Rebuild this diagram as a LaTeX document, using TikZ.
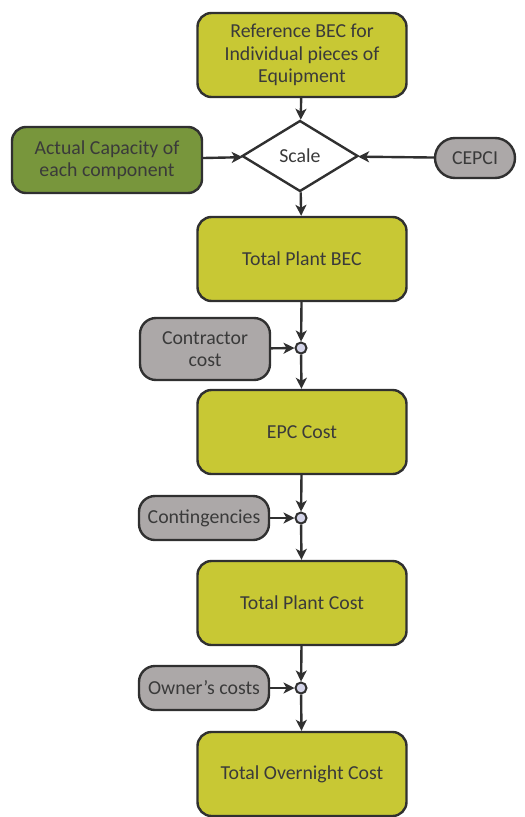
\documentclass[tikz,border=0pt]{standalone}
\usepackage{fontspec}
\setmainfont{Carlito}
\usetikzlibrary{shapes.geometric,arrows.meta}
\definecolor{boxyellow}{RGB}{200,200,52}
\definecolor{boxgreen}{RGB}{120,150,60}
\definecolor{boxgray}{RGB}{172,168,168}
\definecolor{dotfill}{RGB}{212,212,232}
\definecolor{edge}{RGB}{48,48,48}
\definecolor{ink}{RGB}{58,58,58}
\tikzset{
  base/.style={draw=edge, line width=2.4pt, text=ink, align=center,
    font=\fontsize{19.8}{22.5}\selectfont, inner sep=1pt},
  mainbox/.style={base, fill=boxyellow, rounded corners=14pt,
    minimum width=209pt, minimum height=84pt},
  inbox/.style={base, fill=boxgreen, rounded corners=14pt,
    minimum width=190pt, minimum height=66pt},
  sidebox/.style={base, fill=boxgray, rounded corners=16pt,
    minimum width=130pt, minimum height=44pt},
  decide/.style={base, fill=white, diamond, aspect=1.65, inner sep=0pt,
    minimum width=116pt, minimum height=71pt},
  joint/.style={circle, draw=edge, line width=2pt, fill=dotfill,
    minimum size=11pt, inner sep=0pt},
  flow/.style={draw=edge, line width=2.4pt,
    -{Stealth[length=11pt,width=11pt,inset=3pt]}},
}
\begin{document}
\begin{tikzpicture}[x=1pt,y=-1pt]
\useasboundingbox (0,0) rectangle (525,817);

\node[mainbox] (ref) at (302,55) {Reference BEC for\\Individual pieces of\\Equipment};
\node[decide] (scale) at (300,156) {Scale};
\node[inbox] (cap) at (107,160) {Actual Capacity of\\each component};
\node[sidebox, rounded corners=20pt, minimum width=80pt, minimum height=40pt] (cepci) at (475,158) {CEPCI};
\node[mainbox] (bec) at (302,259) {Total Plant BEC};

\node[joint] (j1) at (301,348) {};
\node[sidebox, minimum height=62pt] (contr) at (205,349) {Contractor\\cost};
\node[mainbox] (epc) at (302,432) {EPC Cost};

\node[joint] (j2) at (301,518) {};
\node[sidebox] (cont) at (204,518) {Contingencies};
\node[mainbox] (tpc) at (302,603) {Total Plant Cost};

\node[joint] (j3) at (301,688) {};
\node[sidebox] (own) at (204,688) {Owner's costs};
\node[mainbox] (toc) at (302,774) {Total Overnight Cost};

\draw[flow] (ref) -- (scale);
\draw[flow] (cap) -- (scale);
\draw[flow] (cepci) -- (scale);
\draw[flow] (scale) -- (bec);

\draw[flow] (bec) -- (j1);
\draw[flow] (contr) -- (j1);
\draw[flow] (j1) -- (epc);

\draw[flow] (epc) -- (j2);
\draw[flow] (cont) -- (j2);
\draw[flow] (j2) -- (tpc);

\draw[flow] (tpc) -- (j3);
\draw[flow] (own) -- (j3);
\draw[flow] (j3) -- (toc);
\end{tikzpicture}
\end{document}
